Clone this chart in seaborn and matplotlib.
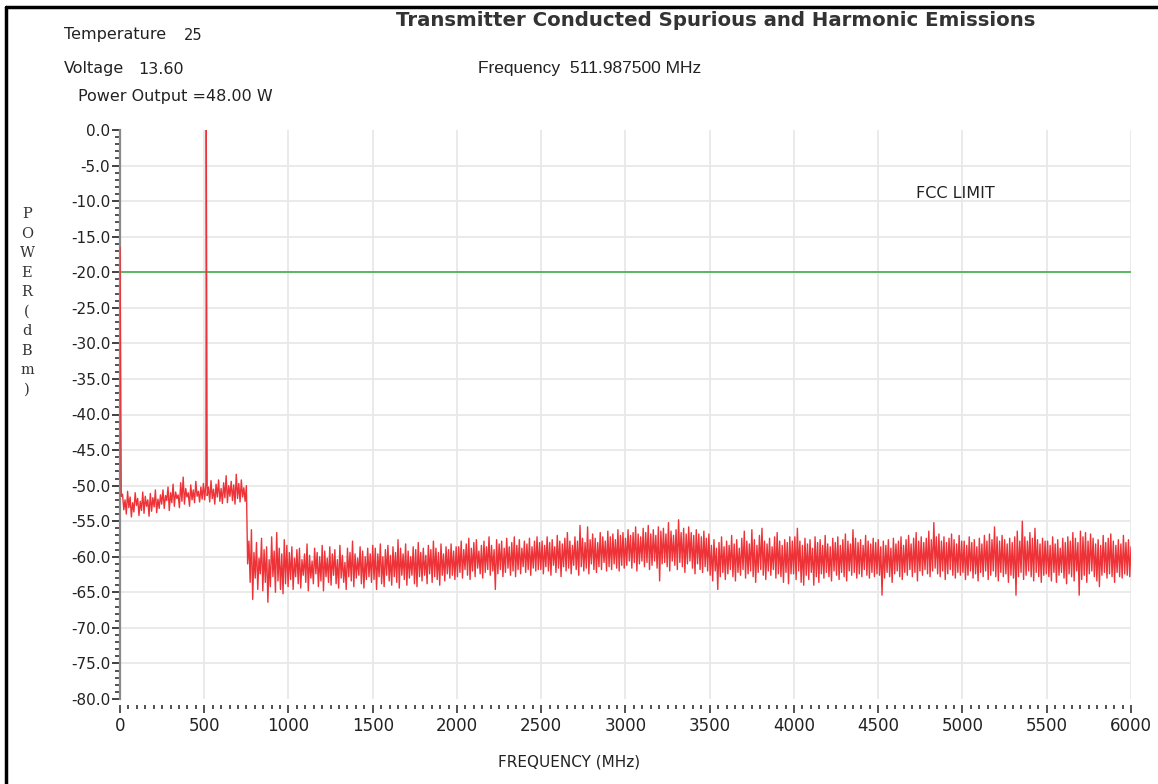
import numpy as np
import pandas as pd
import matplotlib
matplotlib.use("Agg")
import matplotlib.pyplot as plt
from matplotlib.ticker import MultipleLocator, FormatStrFormatter
from matplotlib.lines import Line2D
import seaborn as sns

# ---------------- data ----------------
title = "Transmitter Conducted Spurious and Harmonic Emissions"
temperature = "25"
voltage = "13.60"
power_output = "=48.00 W"
carrier_freq_label = "511.987500 MHz"
carrier_freq = 511.9875      # MHz
carrier_level = 0.0          # dBm (normalised)
fcc_limit = -20.0            # dBm
sweep_start, sweep_stop = 0.0, 6000.0

# upper (peak) trace levels, dBm, at the sweep points 0 .. 6000 MHz (equal steps)
hi_start = [-16.5]
hi_0_250 = [-51.2, -52.0, -50.8, -51.6, -52.4, -51.0, -51.8, -52.2, -50.9, -51.5,
            -52.0, -51.1, -51.7, -50.6, -51.9, -51.3]
hi_250_500 = [-50.6, -51.4, -50.2, -51.0, -49.8, -50.9, -51.3, -49.6, -48.8, -50.4,
              -51.0, -49.9, -50.6, -49.4, -50.8, -50.2, -49.7]
hi_500_750 = [-49.6, -50.2, -49.3, -50.5, -49.8, -49.2, -50.4, -49.6, -48.6, -50.0,
              -49.4, -49.9, -48.4, -49.7, -49.2, -50.3, -50.0]
hi_750_1000 = [-57.8, -56.2, -59.4, -58.0, -60.2, -57.4, -59.0, -58.6, -60.4, -57.2,
               -59.2, -56.6, -58.8, -59.6, -57.6, -58.4]
hi_1000_1500 = [-59.4, -58.6, -60.2, -59.0, -58.8, -60.4, -59.6, -58.2, -59.8, -60.6,
                -58.8, -59.4, -60.0, -58.4, -59.2, -60.2, -58.6, -59.6, -59.0, -60.4,
                -58.4, -59.8, -60.8, -58.8, -59.4, -57.8, -59.6, -60.2, -58.6, -59.2,
                -60.0, -58.8, -59.6, -58.4]
hi_1500_2000 = [-58.8, -59.6, -58.2, -60.0, -59.0, -58.4, -59.8, -58.6, -59.4, -57.6,
                -58.8, -59.6, -58.2, -59.2, -60.0, -58.6, -59.0, -58.0, -59.4, -58.8,
                -59.8, -58.4, -59.0, -57.8, -58.8, -59.4, -58.2, -59.6, -58.6, -59.0,
                -58.2, -59.2, -58.6]
hi_2000_2500 = [-58.6, -57.8, -59.0, -58.2, -57.4, -58.8, -58.0, -57.6, -59.2, -58.4,
                -57.8, -58.6, -57.2, -58.4, -59.0, -57.6, -58.2, -57.8, -58.8, -57.4,
                -58.6, -58.0, -57.2, -58.4, -57.6, -58.8, -57.8, -58.2, -57.4, -58.6,
                -57.8, -57.2, -58.0]
hi_2500_3000 = [-57.8, -58.4, -57.2, -58.0, -57.6, -58.6, -57.0, -57.8, -58.2, -57.4,
                -56.6, -57.8, -58.4, -57.2, -57.8, -55.6, -57.4, -58.0, -55.8, -57.6,
                -56.8, -57.4, -58.0, -56.6, -57.2, -57.8, -56.4, -57.2, -56.8, -57.6,
                -56.2, -57.0, -56.6, -57.4]
hi_3000_3500 = [-56.2, -57.0, -56.6, -55.8, -56.8, -57.2, -56.0, -56.6, -55.6, -56.8,
                -56.2, -57.0, -55.8, -56.4, -56.0, -56.8, -55.2, -56.4, -57.0, -56.2,
                -54.8, -56.6, -56.0, -56.8, -55.8, -56.6, -57.0, -56.2, -56.8, -57.2,
                -56.4, -57.4, -56.8]
hi_3500_4000 = [-58.4, -57.6, -58.8, -58.0, -57.2, -58.6, -57.8, -58.4, -57.0, -58.2,
                -57.6, -58.8, -57.4, -56.4, -57.8, -58.2, -56.2, -57.6, -58.4, -57.0,
                -56.0, -57.8, -58.2, -57.4, -58.6, -57.2, -56.6, -57.8, -58.4, -57.6,
                -58.0, -57.2, -57.8]
hi_4000_4500 = [-57.2, -56.0, -57.8, -58.4, -57.4, -58.2, -57.6, -58.8, -57.2, -58.0,
                -57.6, -58.4, -57.0, -58.2, -58.6, -57.4, -58.0, -57.2, -58.4, -57.6,
                -56.8, -57.8, -58.2, -56.2, -57.4, -58.0, -57.6, -58.4, -57.0, -57.8,
                -58.2, -57.4, -58.0, -57.6]
hi_4500_5000 = [-58.6, -57.8, -58.4, -57.6, -58.8, -57.4, -58.2, -57.8, -57.2, -58.4,
                -57.6, -57.0, -58.2, -57.4, -56.6, -57.8, -57.2, -58.0, -57.4, -56.4,
                -57.6, -55.2, -57.2, -56.8, -57.8, -57.2, -58.0, -57.4, -56.8, -57.6,
                -58.2, -57.0, -57.8]
hi_5000_5500 = [-57.8, -58.4, -57.2, -58.0, -57.6, -58.6, -57.4, -58.2, -57.0, -57.8,
                -56.8, -57.6, -55.8, -57.2, -57.8, -57.0, -57.6, -58.2, -57.4, -58.0,
                -57.2, -56.4, -57.8, -55.0, -57.2, -57.8, -56.6, -57.4, -56.0, -57.6,
                -58.2, -57.4, -57.8]
hi_5500_6000 = [-57.8, -58.4, -57.2, -58.2, -57.6, -58.8, -57.4, -58.0, -57.2, -57.8,
                -56.6, -57.4, -58.0, -56.4, -57.2, -56.6, -57.8, -56.8, -57.4, -58.2,
                -57.6, -58.4, -57.0, -58.0, -57.4, -56.8, -57.8, -58.4, -57.6, -58.2,
                -57.0, -58.0, -57.6, -58.6]

# lower (pit) trace levels, dBm, half-way between consecutive sweep points
lo_0_250 = [-51.5, -53.4, -54.0, -53.1, -54.4, -53.7, -52.8, -54.2, -53.5, -53.9,
            -52.9, -54.3, -53.6, -53.0, -53.8, -53.2]
lo_250_500 = [-52.6, -53.2, -52.1, -53.5, -52.4, -52.9, -51.8, -53.1, -52.2, -52.6,
              -51.6, -52.9, -52.0, -52.4, -51.5, -52.3, -51.9]
lo_500_750 = [-52.0, -51.4, -52.3, -51.8, -52.6, -51.6, -52.2, -52.5, -51.7, -52.4,
              -51.5, -52.1, -52.6, -51.8, -52.3, -51.6, -52.2]
lo_750_1000 = [-61.0, -63.6, -66.0, -63.0, -64.6, -62.4, -64.8, -63.6, -66.4, -64.2,
               -62.8, -65.0, -63.4, -64.6, -65.2, -63.8]
lo_1000_1500 = [-64.2, -63.2, -64.6, -62.8, -63.8, -64.4, -62.6, -63.6, -64.8, -63.0,
                -63.8, -62.4, -64.2, -63.4, -64.8, -62.8, -63.6, -64.0, -62.6, -63.8,
                -64.4, -63.0, -63.6, -64.6, -62.8, -63.4, -64.2, -63.0, -62.6, -63.8,
                -64.4, -63.2, -62.8, -63.6]
lo_1500_2000 = [-63.2, -64.6, -62.8, -63.8, -64.2, -62.6, -63.4, -64.0, -62.8, -63.6,
                -64.4, -62.6, -63.2, -64.0, -63.0, -62.6, -63.8, -64.2, -62.8, -63.4,
                -62.6, -63.8, -62.4, -63.6, -62.8, -63.2, -64.0, -62.6, -63.4, -62.4,
                -63.0, -62.6, -63.2]
lo_2000_2500 = [-62.8, -62.2, -63.0, -61.8, -62.6, -63.2, -62.0, -62.8, -61.6, -62.4,
                -63.0, -62.2, -61.8, -62.6, -62.0, -64.6, -62.4, -61.8, -62.8, -62.2,
                -61.6, -62.6, -62.0, -62.8, -61.8, -62.4, -61.4, -62.2, -61.8, -62.6,
                -61.6, -62.0, -61.8]
lo_2500_3000 = [-61.8, -62.4, -61.4, -62.0, -62.6, -61.2, -62.2, -61.6, -62.8, -61.4,
                -62.0, -61.6, -62.4, -61.2, -61.8, -62.6, -61.4, -62.0, -61.6, -62.4,
                -61.0, -61.8, -62.2, -61.4, -61.8, -60.8, -62.0, -61.4, -61.8, -61.0,
                -61.6, -62.0, -61.2, -61.6]
lo_3000_3500 = [-61.2, -60.6, -61.6, -60.8, -62.0, -61.0, -60.6, -61.4, -60.8, -61.8,
                -61.2, -60.6, -61.6, -63.4, -61.0, -60.8, -61.4, -62.0, -60.6, -61.2,
                -61.8, -60.8, -61.4, -62.2, -61.0, -60.6, -61.6, -62.4, -61.0, -61.8,
                -62.2, -61.4, -62.0]
lo_3500_4000 = [-62.6, -63.4, -62.0, -64.6, -62.8, -62.2, -63.2, -62.4, -61.8, -62.8,
                -63.4, -62.2, -62.6, -61.8, -63.0, -62.4, -62.0, -62.8, -63.6, -62.2,
                -61.8, -62.6, -63.2, -62.0, -62.6, -61.8, -63.0, -62.4, -62.8, -63.6,
                -62.2, -63.8, -62.4]
lo_4000_4500 = [-62.4, -63.2, -62.0, -63.6, -64.0, -62.6, -63.2, -62.2, -64.0, -62.8,
                -63.6, -62.4, -63.0, -62.2, -62.8, -63.4, -62.0, -62.6, -63.2, -62.2,
                -62.8, -63.4, -62.0, -62.6, -62.2, -63.0, -62.4, -62.8, -61.8, -62.6,
                -63.0, -62.2, -62.8, -62.4]
lo_4500_5000 = [-62.6, -65.4, -63.0, -62.2, -62.8, -63.6, -62.4, -62.0, -62.8, -63.2,
                -62.2, -62.6, -61.8, -62.8, -62.2, -63.4, -62.0, -62.6, -61.8, -62.4,
                -62.8, -62.0, -61.6, -62.4, -62.8, -62.0, -63.2, -62.4, -61.8, -62.6,
                -63.0, -62.2, -62.6]
lo_5000_5500 = [-62.2, -63.2, -62.6, -62.0, -63.0, -62.4, -63.4, -62.2, -62.8, -62.0,
                -63.2, -62.6, -62.0, -62.8, -63.4, -62.2, -62.8, -62.4, -63.6, -62.6,
                -63.0, -65.4, -62.8, -62.2, -63.2, -62.6, -62.0, -62.8, -63.4, -62.2,
                -62.8, -63.6, -62.6]
lo_5500_6000 = [-62.4, -62.8, -63.4, -62.2, -63.6, -62.6, -62.2, -63.0, -63.8, -62.4,
                -62.8, -63.4, -62.0, -65.4, -63.2, -62.6, -63.6, -62.4, -62.0, -62.8,
                -63.4, -64.2, -62.6, -62.2, -63.0, -62.4, -62.8, -63.6, -62.2, -62.8,
                -63.0, -62.4, -62.6, -62.8]

y_ticks = [0, -5, -10, -15, -20, -25, -30, -35, -40, -45, -50, -55, -60, -65, -70, -75, -80]
x_ticks = [0, 500, 1000, 1500, 2000, 2500, 3000, 3500, 4000, 4500, 5000, 5500, 6000]

# ---------------- build table ----------------
hi = (hi_start + hi_0_250 + hi_250_500 + hi_500_750 + hi_750_1000 + hi_1000_1500 +
      hi_1500_2000 + hi_2000_2500 + hi_2500_3000 + hi_3000_3500 + hi_3500_4000 +
      hi_4000_4500 + hi_4500_5000 + hi_5000_5500 + hi_5500_6000)
lo = (lo_0_250 + lo_250_500 + lo_500_750 + lo_750_1000 + lo_1000_1500 +
      lo_1500_2000 + lo_2000_2500 + lo_2500_3000 + lo_3000_3500 + lo_3500_4000 +
      lo_4000_4500 + lo_4500_5000 + lo_5000_5500 + lo_5500_6000)
sweep = np.linspace(sweep_start, sweep_stop, len(hi))
half = (sweep[:-1] + sweep[1:]) / 2
n_lo = min(len(lo), len(half))
df = pd.DataFrame({"freq": np.concatenate([sweep, half[:n_lo], [carrier_freq]]),
                   "power": np.concatenate([hi, lo[:n_lo], [carrier_level]])})
df = df.sort_values("freq").reset_index(drop=True)

# ---------------- figure ----------------
sns.set_theme(style="white")
plt.rcParams["font.family"] = ["DejaVu Sans"]

W, H = 1158, 784
fig = plt.figure(figsize=(W / 100, H / 100), dpi=100)
fig.patch.set_facecolor("white")
ax = fig.add_axes([120 / W, 1 - 699 / H, (1131 - 120) / W, (699 - 130) / H])
ax.set_facecolor("white")

sns.lineplot(data=df, x="freq", y="power", ax=ax, color="#ee3338",
             linewidth=1.0, estimator=None, sort=False, zorder=3)
ax.axhline(fcc_limit, color="#4db357", linewidth=1.3, zorder=2)

ax.set_xlim(sweep_start, sweep_stop)
ax.set_ylim(-80, 0)
ax.set_xticks(x_ticks)
ax.set_yticks(y_ticks)
ax.xaxis.set_minor_locator(MultipleLocator(50))
ax.yaxis.set_minor_locator(MultipleLocator(1))
ax.yaxis.set_major_formatter(FormatStrFormatter("%.1f"))

ax.grid(True, which="major", color="#e8e8e8", linewidth=1.3, zorder=0)
for t, v in zip(ax.yaxis.get_major_ticks(), y_ticks):
    if v in (0, -80):
        t.gridline.set_visible(False)
for t, v in zip(ax.xaxis.get_major_ticks(), x_ticks):
    if v in (0, 6000):
        t.gridline.set_visible(False)

for s in ["top", "right"]:
    ax.spines[s].set_visible(False)
ax.spines["bottom"].set_position(("outward", 4))
ax.spines["bottom"].set_visible(False)
ax.spines["left"].set_color("#8a8a8a")
ax.spines["left"].set_linewidth(1.6)

ax.tick_params(axis="x", which="major", direction="out", length=6, width=1.2,
               color="#333333", labelsize=12, pad=3, labelcolor="#222222", bottom=True)
ax.tick_params(axis="x", which="minor", direction="out", length=3, width=1.2,
               color="#333333", bottom=True)
ax.tick_params(axis="y", which="major", direction="out", length=6, width=1.3,
               color="#333333", labelsize=11, pad=1, labelcolor="#222222", left=True)
ax.tick_params(axis="y", which="minor", direction="out", length=3.5, width=1.2,
               color="#333333", left=True)
ax.set_xlabel("")
ax.set_ylabel("")

# annotations
ax.text(4724, -8.9, "FCC LIMIT", fontsize=11.5, color="#222222", va="center", ha="left")

fig.text(396 / W, 1 - 21 / H, title, fontsize=14.2, fontweight="bold",
         color="#333333", ha="left", va="center")
fig.text(64 / W, 1 - 34 / H, "Temperature", fontsize=11.5, color="#222222", va="center")
fig.text(184 / W, 1 - 35 / H, temperature, fontsize=10.5, color="#222222", va="center")
fig.text(64 / W, 1 - 68 / H, "Voltage", fontsize=11.5, color="#222222", va="center")
fig.text(138 / W, 1 - 69 / H, voltage, fontsize=11.5, color="#222222", va="center")
fig.text(78 / W, 1 - 96 / H, "Power Output " + power_output, fontsize=11.5,
         color="#222222", va="center")
fig.text(478 / W, 1 - 69 / H, "Frequency  " + carrier_freq_label, fontsize=12.5,
         color="#222222", va="center", family=["Liberation Sans", "DejaVu Sans"])
fig.text(569 / W, 1 - 762 / H, "FREQUENCY (MHz)", fontsize=11, color="#222222",
         ha="center", va="center")
fig.text(27 / W, 1 - 302 / H, "\n".join("POWER(dBm)"), fontsize=10.5,
         family=["DejaVu Serif"], color="#333333", ha="center", va="center",
         linespacing=1.5)

# outer frame (top and left edges)
fig.add_artist(Line2D([6 / W, 1.0], [1 - 7 / H, 1 - 7 / H], transform=fig.transFigure,
                      color="black", linewidth=2.5))
fig.add_artist(Line2D([6 / W, 6 / W], [0.0, 1 - 7 / H], transform=fig.transFigure,
                      color="black", linewidth=2.5))

fig.savefig("out.png", dpi=100, facecolor="white")
